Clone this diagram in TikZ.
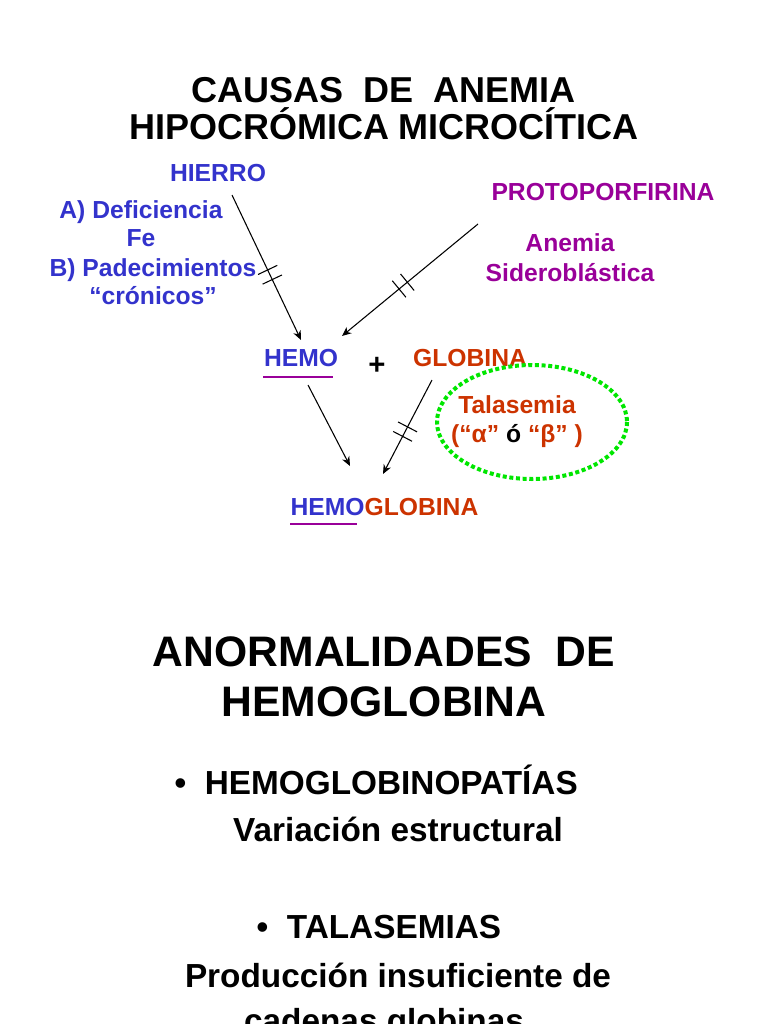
\documentclass[tikz,border=0pt]{standalone}
\usepackage{fontspec}
\setmainfont{Liberation Sans}
\usetikzlibrary{arrows.meta,decorations.markings}
\definecolor{fblue}{RGB}{51,51,204}
\definecolor{fpurple}{RGB}{153,0,153}
\definecolor{forange}{RGB}{204,51,0}
\definecolor{fgreen}{RGB}{0,230,0}
\begin{document}
\begin{tikzpicture}[x=0.75pt,y=-0.75pt]
  \tikzset{
    title/.style={font=\fontsize{27}{30}\selectfont\bfseries, align=center},
    big/.style={font=\fontsize{25}{29}\selectfont\bfseries},
    head/.style={font=\fontsize{32}{36}\selectfont\bfseries},
    lbl/.style={font=\fontsize{18.5}{21}\selectfont\bfseries, inner sep=1pt},
    flow/.style={thick, -{Stealth[length=7pt,width=6pt]}},
    blocked/.style={postaction={decorate}, decoration={markings,
        mark=at position 0.55 with {\draw[thick,-] (-4pt,-8pt)--(-4pt,8pt); \draw[thick,-] (4pt,-8pt)--(4pt,8pt);}}},
    uline/.style={fpurple, thick}
  }
  \useasboundingbox (0,0) rectangle (768,1024);
  \clip (0,0) rectangle (768,1024);

  % titulo
  \node[title] (t1) at (384,90) {CAUSAS\ \ DE\ \ ANEMIA};
  \node[title] (t2) at (384,124) {HIPOCRÓMICA MICROCÍTICA};

  % hierro
  \node[lbl, fblue] (hierro) at (218,173) {HIERRO};
  \node[lbl, fblue] (defa) at (141,212) {A) Deficiencia};
  \node[lbl, fblue] (fe) at (141,238) {Fe};
  \node[lbl, fblue] (padb) at (153,270) {B) Padecimientos};
  \node[lbl, fblue] (cron) at (153,296) {“crónicos”};

  % protoporfirina
  \node[lbl, fpurple] (proto) at (603,192) {PROTOPORFIRINA};
  \node[lbl, fpurple] (anem) at (570,243) {Anemia};
  \node[lbl, fpurple] (sidero) at (570,273) {Sideroblástica};

  % hemo + globina
  \node[lbl, fblue] (hemo) at (301,358) {HEMO};
  \draw[uline] (263,377) -- (333,377);
  \node[font=\fontsize{22}{24}\selectfont\bfseries] (plus) at (377,366) {+};
  \node[lbl, forange] (glob) at (470,358) {GLOBINA};

  % talasemia
  \draw[fgreen, line width=3pt, dotted] (532,422) ellipse (95 and 57);
  \node[lbl, forange] (tala) at (517,405) {Talasemia};
  \node[lbl, forange] (alfa) at (517,436) {(“α” {\color{black}ó} “β” )};

  % hemoglobina
  \node[lbl, anchor=west] (hb) at (289,507) {{\color{fblue}HEMO}{\color{forange}GLOBINA}};
  \draw[uline] (290,524) -- (357,524);

  % flechas
  \coordinate (h1) at (232,195);
  \coordinate (h2) at (301,340);
  \coordinate (p1) at (478,224);
  \coordinate (p2) at (342,336);
  \coordinate (m1) at (308,385);
  \coordinate (m2) at (350,466);
  \coordinate (g1) at (432,380);
  \coordinate (g2) at (383,474);
  \draw[flow, blocked] (h1) -- (h2);
  \draw[flow, blocked] (p1) -- (p2);
  \draw[flow] (m1) -- (m2);
  \draw[flow, blocked] (g1) -- (g2);

  % segunda parte
  \node[head] (an1) at (384,652) {ANORMALIDADES\ \ DE};
  \node[head] (an2) at (384,702) {HEMOGLOBINA};
  \node[big, anchor=west] (b1) at (170,780) {•\ \ HEMOGLOBINOPATÍAS};
  \node[big] (b1t) at (398,829) {Variación estructural};
  \node[big, anchor=west] (b2) at (252,927) {•\ \ TALASEMIAS};
  \node[big] (b2t) at (398,975) {Producción insuficiente de};
  \node[big] (b2u) at (384,1024) {cadenas globinas};
\end{tikzpicture}
\end{document}
